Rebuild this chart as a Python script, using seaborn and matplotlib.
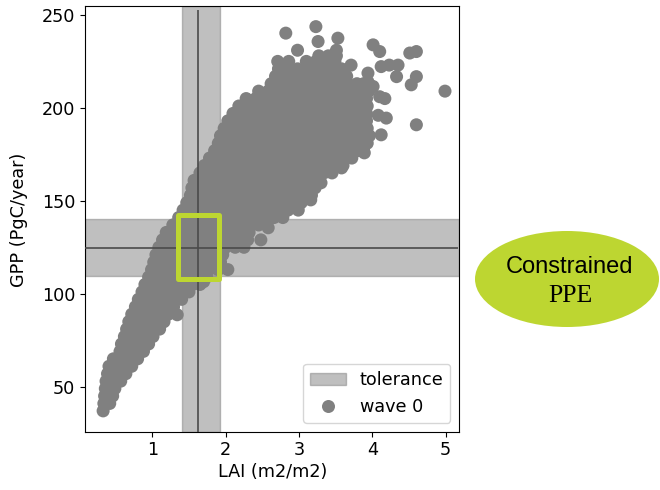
import matplotlib
matplotlib.use("Agg")
import matplotlib.pyplot as plt
import seaborn as sns
import pandas as pd
from matplotlib.patches import Rectangle, Ellipse, Patch
from matplotlib.lines import Line2D

# ---------------- data ----------------
# dense cloud, stored row by row (GPP level -> LAI values in that row)
gpp_rows = [37, 41, 45, 49, 53, 57, 61, 65, 69, 73, 77, 81, 85, 89, 93, 97, 101,
            105, 109, 113, 117, 121, 125, 129, 133, 137, 141, 145, 149, 153, 157,
            161, 165, 169, 173, 177, 181, 185, 189, 193, 197, 201, 205, 209, 213,
            217, 221, 225, 228]
lai_rows = [
    [0.33],
    [0.34, 0.42],
    [0.35, 0.46],
    [0.36, 0.49],
    [0.37, 0.50, 0.57],
    [0.39, 0.52, 0.64],
    [0.41, 0.54, 0.67, 0.72],
    [0.47, 0.60, 0.73, 0.80],
    [0.56, 0.69, 0.82, 0.88],
    [0.58, 0.71, 0.84, 0.95],
    [0.62, 0.75, 0.88, 1.01],
    [0.65, 0.78, 0.91, 1.04, 1.10],
    [0.68, 0.81, 0.94, 1.07, 1.16],
    [0.72, 0.85, 0.98, 1.11, 1.22],
    [0.77, 0.90, 1.03, 1.16, 1.29],
    [0.81, 0.94, 1.07, 1.20, 1.33, 1.40],
    [0.86, 0.99, 1.12, 1.25, 1.38, 1.50],
    [0.90, 1.03, 1.16, 1.29, 1.42, 1.55, 1.65],
    [0.95, 1.08, 1.21, 1.34, 1.47, 1.60, 1.74],
    [0.99, 1.12, 1.25, 1.38, 1.51, 1.64, 1.77, 1.90],
    [1.02, 1.15, 1.28, 1.41, 1.54, 1.67, 1.80, 1.93],
    [1.05, 1.18, 1.31, 1.44, 1.57, 1.70, 1.83, 1.96],
    [1.09, 1.22, 1.35, 1.48, 1.61, 1.74, 1.87, 2.00, 2.13, 2.25],
    [1.14, 1.27, 1.40, 1.53, 1.66, 1.79, 1.92, 2.05, 2.18, 2.30],
    [1.19, 1.32, 1.45, 1.58, 1.71, 1.84, 1.97, 2.10, 2.23, 2.32],
    [1.28, 1.41, 1.54, 1.67, 1.80, 1.93, 2.06, 2.19, 2.32, 2.45],
    [1.36, 1.49, 1.62, 1.75, 1.88, 2.01, 2.14, 2.27, 2.40, 2.53, 2.66, 2.78],
    [1.42, 1.55, 1.68, 1.81, 1.94, 2.07, 2.20, 2.33, 2.46, 2.59, 2.72, 2.85],
    [1.47, 1.60, 1.73, 1.86, 1.99, 2.12, 2.25, 2.38, 2.51, 2.64, 2.77, 2.90, 3.03],
    [1.52, 1.65, 1.78, 1.91, 2.04, 2.17, 2.30, 2.43, 2.56, 2.69, 2.82, 2.95, 3.08, 3.17],
    [1.54, 1.67, 1.80, 1.93, 2.06, 2.19, 2.32, 2.45, 2.58, 2.71, 2.84, 2.97, 3.10, 3.22],
    [1.57, 1.70, 1.83, 1.96, 2.09, 2.22, 2.35, 2.48, 2.61, 2.74, 2.87, 3.00, 3.13, 3.26],
    [1.65, 1.78, 1.91, 2.04, 2.17, 2.30, 2.43, 2.56, 2.69, 2.82, 2.95, 3.08, 3.21, 3.34, 3.45],
    [1.71, 1.84, 1.97, 2.10, 2.23, 2.36, 2.49, 2.62, 2.75, 2.88, 3.01, 3.14, 3.27, 3.40, 3.53, 3.60],
    [1.78, 1.91, 2.04, 2.17, 2.30, 2.43, 2.56, 2.69, 2.82, 2.95, 3.08, 3.21, 3.34, 3.47, 3.60, 3.72],
    [1.85, 1.98, 2.11, 2.24, 2.37, 2.50, 2.63, 2.76, 2.89, 3.02, 3.15, 3.28, 3.41, 3.54, 3.67, 3.80, 3.88],
    [1.90, 2.03, 2.16, 2.29, 2.42, 2.55, 2.68, 2.81, 2.94, 3.07, 3.20, 3.33, 3.46, 3.59, 3.72, 3.85, 3.93],
    [1.93, 2.06, 2.19, 2.32, 2.45, 2.58, 2.71, 2.84, 2.97, 3.10, 3.23, 3.36, 3.49, 3.62, 3.75, 3.88, 3.96],
    [1.98, 2.11, 2.24, 2.37, 2.50, 2.63, 2.76, 2.89, 3.02, 3.15, 3.28, 3.41, 3.54, 3.67, 3.80, 3.93],
    [2.03, 2.16, 2.29, 2.42, 2.55, 2.68, 2.81, 2.94, 3.07, 3.20, 3.33, 3.46, 3.59, 3.72, 3.85, 3.92],
    [2.10, 2.23, 2.36, 2.49, 2.62, 2.75, 2.88, 3.01, 3.14, 3.27, 3.40, 3.53, 3.66, 3.79, 3.92],
    [2.18, 2.31, 2.44, 2.57, 2.70, 2.83, 2.96, 3.09, 3.22, 3.35, 3.48, 3.61, 3.74, 3.87, 3.93],
    [2.28, 2.41, 2.54, 2.67, 2.80, 2.93, 3.06, 3.19, 3.32, 3.45, 3.58, 3.71, 3.84, 3.92],
    [2.45, 2.58, 2.71, 2.84, 2.97, 3.10, 3.23, 3.36, 3.49, 3.62, 3.75, 3.88, 3.95],
    [2.62, 2.75, 2.88, 3.01, 3.14, 3.27, 3.40, 3.53, 3.66, 3.79, 3.88],
    [2.68, 2.81, 2.94, 3.07, 3.20, 3.33, 3.46, 3.59, 3.65],
    [2.72, 2.85, 2.98, 3.11, 3.24, 3.37, 3.50, 3.58],
    [2.71, 2.86, 3.10, 3.23, 3.36, 3.49],
    [3.27, 3.40, 3.51],
]
# isolated points around the cloud
lai_extra = [2.98, 2.82, 3.23, 3.26, 3.53, 3.51, 3.71, 3.53, 4.01, 4.10, 4.51, 4.60,
             4.12, 4.23, 4.35, 4.33, 4.60, 4.53, 3.94, 3.94, 4.01, 4.10, 4.17, 4.08,
             4.19, 4.12, 4.60, 4.99, 2.58, 2.48, 2.99, 3.16, 3.30, 3.58, 3.89, 1.34,
             1.15, 1.70, 2.03, 2.34, 2.30]
gpp_extra = [231.0, 240.2, 243.7, 235.7, 237.5, 231.0, 223.0, 218.7, 233.9, 230.3, 229.5, 230.3,
             222.2, 223.0, 223.0, 216.8, 216.8, 212.4, 218.7, 214.0, 211.5, 206.0, 205.0, 196.0,
             194.5, 185.5, 190.9, 209.0, 135.5, 129.0, 145.0, 150.5, 159.7, 167.7, 175.8, 88.7,
             85.0, 106.5, 113.0, 138.0, 133.0]

# observation, tolerance and highlighted box
obs_lai = 1.62
obs_gpp = 124.4
tol_lai = [1.41, 1.92]
tol_gpp = [109.7, 140.2]
vline_gpp = [20.0, 252.6]
hline_lai = [0.0, 5.17]
box_lai = [1.35, 1.91]
box_gpp = [107.8, 142.2]

x_ticks = [1, 2, 3, 4, 5]
y_ticks = [50, 100, 150, 200, 250]
x_lim = [0.083, 5.185]
y_lim = [25.8, 254.8]

# ---------------- build table ----------------
lai = [v for row in lai_rows for v in row] + lai_extra
gpp = [g for g, row in zip(gpp_rows, lai_rows) for _ in row] + gpp_extra
df = pd.DataFrame({"LAI": lai, "GPP": gpp})

GREEN = "#BDD631"
FS = 12.7

fig = plt.figure(figsize=(6.6, 4.9), dpi=100)
ax = fig.add_axes([85 / 660, 1 - 431.7 / 490, 374.3 / 660, 425.7 / 490])

ax.axvspan(tol_lai[0], tol_lai[1], color="gray", alpha=0.5, label="tolerance")
ax.axhspan(tol_gpp[0], tol_gpp[1], color="gray", alpha=0.5)

sns.scatterplot(data=df, x="LAI", y="GPP", color="gray", s=88, linewidth=0,
                edgecolor="none", ax=ax, label="wave 0", legend=False)

ax.vlines(obs_lai, vline_gpp[0], vline_gpp[1], color="#4a4a4a", lw=1.2, zorder=3)
ax.hlines(obs_gpp, hline_lai[0], hline_lai[1], color="#4a4a4a", lw=1.2, zorder=3)

ax.add_patch(Rectangle((box_lai[0], box_gpp[0]), box_lai[1] - box_lai[0],
                       box_gpp[1] - box_gpp[0], fill=False, edgecolor=GREEN,
                       lw=3.6, joinstyle="round", zorder=4))

ax.set_xlim(x_lim)
ax.set_ylim(y_lim)
ax.set_xticks(x_ticks)
ax.set_yticks(y_ticks)
ax.tick_params(labelsize=FS)
ax.set_xlabel("LAI (m2/m2)", fontsize=FS)
ax.set_ylabel("GPP (PgC/year)", fontsize=FS)
ax.xaxis.set_label_coords(0.501, -0.073)
ax.yaxis.set_label_coords(-0.153, 0.497)

handles = [Patch(facecolor="gray", edgecolor="gray", alpha=0.5),
           Line2D([], [], marker="o", ls="none", color="gray", markersize=9.36,
                  markeredgewidth=0)]
ax.legend(handles, ["tolerance", "wave 0"], loc="lower right", fontsize=FS)

# annotation bubble outside the axes
fig.add_artist(Ellipse((567 / 660, 1 - 279 / 490), 184 / 660, 96 / 490,
                       transform=fig.transFigure, facecolor=GREEN, edgecolor="none"))
fig.text(569.7 / 660, 1 - 272.7 / 490, "Constrained", fontsize=17,
         family="Liberation Sans", ha="center", va="baseline", color="black")
fig.text(570.5 / 660, 1 - 302.3 / 490, "PPE", fontsize=18.5,
         family="Liberation Serif", ha="center", va="baseline", color="black")

fig.savefig("out.png", dpi=100)
